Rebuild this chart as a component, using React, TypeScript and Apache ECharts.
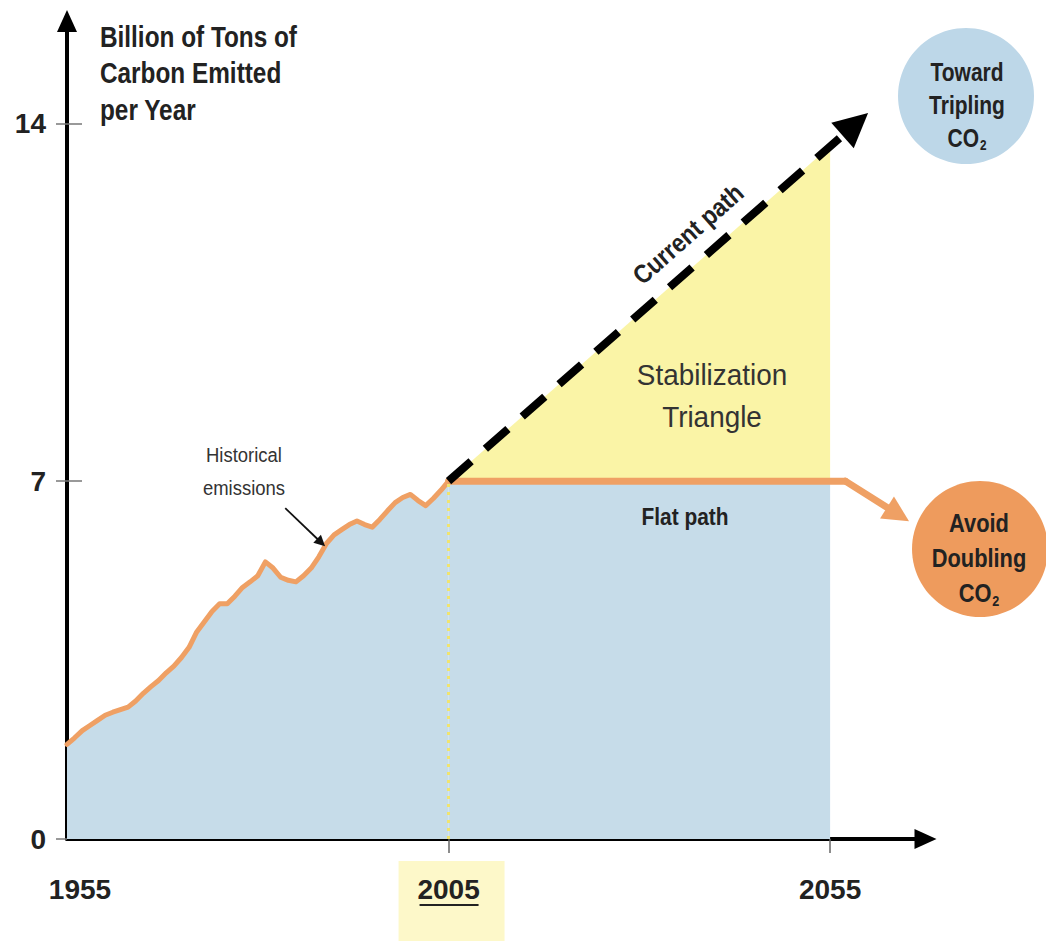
import React, { useEffect, useRef } from "react";
import * as echarts from "echarts";

// ---- data ----
const historicalYears = [
  1955, 1956, 1957, 1958, 1959, 1960, 1961, 1962, 1963, 1964, 1965, 1966, 1967,
  1968, 1969, 1970, 1971, 1972, 1973, 1974, 1975, 1976, 1977, 1978, 1979, 1980,
  1981, 1982, 1983, 1984, 1985, 1986, 1987, 1988, 1989, 1990, 1991, 1992, 1993,
  1994, 1995, 1996, 1997, 1998, 1999, 2000, 2001, 2002, 2003, 2004, 2005,
];
const historicalValues = [
  1.85, 1.98, 2.12, 2.22, 2.32, 2.42, 2.48, 2.53, 2.58, 2.7, 2.85, 2.98, 3.1,
  3.25, 3.38, 3.55, 3.75, 4.05, 4.25, 4.45, 4.6, 4.6, 4.75, 4.92, 5.03, 5.15,
  5.42, 5.3, 5.12, 5.06, 5.03, 5.15, 5.3, 5.52, 5.78, 5.95, 6.05, 6.15, 6.22,
  6.15, 6.1, 6.25, 6.42, 6.58, 6.68, 6.74, 6.62, 6.52, 6.66, 6.82, 7.0,
];
const projectionYears = [2005, 2055];
const flatPathValues = [7, 7];
const currentPathValues = [7, 13.55];
const currentArrowYears = [2005, 2058.3];
const currentArrowValues = [7, 13.98];
const flatLineYears = [2005, 2057];
const flatArrowYears = [2057, 2063.9];
const flatArrowValues = [7, 6.35];
const noteArrowYears = [1983.6, 1988.3];
const noteArrowValues = [6.47, 5.8];
const yTickValues = [0, 7, 14];
const yInnerTickValues = [7, 14];
const xLabelValues = [1955, 2005, 2055];
const xTickValues = [2005, 2055];

// ---- styles ----
const SANS = "'Liberation Sans', Arial, sans-serif";
const ORANGE = "#EFA064";
const BLUE_FILL = "#C6DCE9";
const YELLOW_FILL = "#FAF4A6";
const TEXT = "#222222";

const pairs = (xs: number[], ys: number[]) => xs.map((x, i) => [x, ys[i]]);

export default function App() {
  const ref = useRef<HTMLDivElement>(null);

  useEffect(() => {
    if (!ref.current) return;
    const chart = echarts.init(ref.current, null, { renderer: "svg" });

    const option: any = {
      animation: false,
      backgroundColor: "#ffffff",
      grid: { left: 67, top: 21, width: 858.5, height: 818, containLabel: false },
      xAxis: {
        type: "value",
        min: 1955,
        max: 2067.5,
        axisLine: {
          show: true,
          onZero: false,
          lineStyle: { color: "#000", width: 4 },
          symbol: ["none", "triangle"],
          symbolSize: [20, 22],
        },
        axisTick: {
          show: true,
          customValues: xTickValues,
          length: 14,
          lineStyle: { color: "#666", width: 1.5 },
        },
        axisLabel: {
          customValues: xLabelValues,
          margin: 36,
          fontFamily: SANS,
          fontWeight: "bold",
          fontSize: 28,
          color: TEXT,
          formatter: (v: number) =>
            Math.round(v) === 1955 ? "{first|1955}" : String(Math.round(v)),
          rich: {
            first: {
              padding: [0, 0, 0, 26],
              fontFamily: SANS,
              fontWeight: "bold",
              fontSize: 28,
              color: TEXT,
            },
          },
        },
        splitLine: { show: false },
      },
      yAxis: [
        {
          type: "value",
          min: 0,
          max: 16,
          axisLine: {
            show: true,
            onZero: false,
            lineStyle: { color: "#000", width: 4 },
            symbol: ["none", "triangle"],
            symbolSize: [20, 22],
          },
          axisTick: {
            show: true,
            customValues: yTickValues,
            length: 11,
            lineStyle: { color: "#777", width: 1.5 },
          },
          axisLabel: {
            customValues: yTickValues,
            margin: 21,
            fontFamily: SANS,
            fontWeight: "bold",
            fontSize: 28,
            color: TEXT,
          },
          splitLine: { show: false },
        },
        {
          type: "value",
          min: 0,
          max: 16,
          position: "left",
          axisLine: { show: false },
          axisTick: {
            show: true,
            inside: true,
            customValues: yInnerTickValues,
            length: 15,
            lineStyle: { color: "#777", width: 1.5 },
          },
          axisLabel: { show: false },
          splitLine: { show: false },
        },
      ],
      series: [
        {
          name: "Flat path area",
          type: "line",
          data: pairs(projectionYears, flatPathValues),
          symbol: "none",
          lineStyle: { width: 0, opacity: 0 },
          areaStyle: { color: BLUE_FILL, opacity: 1 },
          silent: true,
          markLine: {
            silent: true,
            symbol: "none",
            label: { show: false },
            lineStyle: { type: [3, 5], color: "#F0E46E", width: 3, opacity: 1 },
            data: [[{ coord: [2005, 0] }, { coord: [2005, 7] }]],
          },
        },
        {
          name: "Historical emissions",
          type: "line",
          data: pairs(historicalYears, historicalValues),
          symbol: "none",
          lineStyle: { color: ORANGE, width: 5, join: "round", cap: "round" },
          areaStyle: { color: BLUE_FILL, opacity: 1 },
          silent: true,
          z: 3,
        },
        {
          name: "Stabilization triangle",
          type: "line",
          data: pairs(projectionYears, currentPathValues),
          symbol: "none",
          lineStyle: { width: 0, opacity: 0 },
          areaStyle: { color: YELLOW_FILL, opacity: 1, origin: 7 },
          silent: true,
        },
        {
          name: "Flat path",
          type: "line",
          data: pairs(flatLineYears, flatPathValues),
          symbol: "none",
          lineStyle: { color: ORANGE, width: 7, cap: "round" },
          silent: true,
          z: 4,
        },
        {
          name: "Flat path arrow",
          type: "lines",
          coordinateSystem: "cartesian2d",
          symbol: ["none", "triangle"],
          symbolSize: [1, 26],
          lineStyle: { color: ORANGE, width: 7, opacity: 1, curveness: 0, cap: "round" },
          data: [{ coords: pairs(flatArrowYears, flatArrowValues) }],
          silent: true,
          z: 4,
        },
        {
          name: "Current path",
          type: "lines",
          coordinateSystem: "cartesian2d",
          symbol: ["none", "triangle"],
          symbolSize: [1, 34],
          lineStyle: { color: "#000", width: 8, opacity: 1, curveness: 0, type: [30, 19] },
          data: [{ coords: pairs(currentArrowYears, currentArrowValues) }],
          silent: true,
          z: 5,
        },
        {
          name: "Note arrow",
          type: "lines",
          coordinateSystem: "cartesian2d",
          symbol: ["none", "triangle"],
          symbolSize: [1, 11],
          lineStyle: { color: "#111", width: 1.8, opacity: 1, curveness: 0 },
          data: [{ coords: pairs(noteArrowYears, noteArrowValues) }],
          silent: true,
          z: 5,
        },
      ],
    };

    chart.setOption(option);

    const p2005 = chart.convertToPixel({ gridIndex: 0 }, [2005, 0]) as number[];
    const px = p2005[0];

    chart.setOption({
      graphic: [
        {
          type: "rect",
          z: -10,
          shape: { x: px - 50, y: 861, width: 106, height: 80 },
          style: { fill: "#FDF8C9" },
          silent: true,
        },
        {
          type: "line",
          shape: { x1: px - 29, y1: 905, x2: px + 30, y2: 905 },
          style: { stroke: TEXT, lineWidth: 2 },
          silent: true,
        },
        {
          type: "text",
          x: 100,
          y: 19,
          scaleX: 0.84,
          style: {
            text: "Billion of Tons of\nCarbon Emitted\nper Year",
            font: `bold 29px ${SANS}`,
            lineHeight: 36.5,
            fill: TEXT,
            align: "left",
            verticalAlign: "top",
          },
          silent: true,
        },
        {
          type: "text",
          x: 244,
          y: 471,
          scaleX: 0.88,
          style: {
            text: "Historical\nemissions",
            font: `21px ${SANS}`,
            lineHeight: 33,
            fill: "#333",
            align: "center",
            verticalAlign: "middle",
          },
          silent: true,
        },
        {
          type: "text",
          x: 688,
          y: 234,
          rotation: (41.3 * Math.PI) / 180,
          scaleX: 0.88,
          style: {
            text: "Current path",
            font: `bold 26px ${SANS}`,
            fill: TEXT,
            align: "center",
            verticalAlign: "middle",
          },
          silent: true,
          z: 10,
        },
        {
          type: "text",
          x: 712,
          y: 396,
          scaleX: 0.93,
          style: {
            text: "Stabilization\nTriangle",
            font: `30px ${SANS}`,
            lineHeight: 42,
            fill: "#333",
            align: "center",
            verticalAlign: "middle",
          },
          silent: true,
          z: 10,
        },
        {
          type: "text",
          x: 685,
          y: 517,
          scaleX: 0.87,
          style: {
            text: "Flat path",
            font: `bold 24px ${SANS}`,
            fill: TEXT,
            align: "center",
            verticalAlign: "middle",
          },
          silent: true,
          z: 10,
        },
        {
          type: "circle",
          shape: { cx: 966, cy: 96, r: 68 },
          style: { fill: "#BDD7E8" },
          silent: true,
        },
        {
          type: "text",
          x: 967,
          y: 105,
          scaleX: 0.84,
          style: {
            text: "Toward\nTripling\nCO{sub|2}",
            font: `bold 25px ${SANS}`,
            lineHeight: 33,
            fill: TEXT,
            align: "center",
            verticalAlign: "middle",
            rich: {
              sub: { font: `bold 14px ${SANS}`, fill: TEXT, padding: [15, 0, 0, 1] },
            },
          },
          silent: true,
          z: 10,
        },
        {
          type: "circle",
          shape: { cx: 980, cy: 549, r: 68 },
          style: { fill: "#EE9B5D" },
          silent: true,
        },
        {
          type: "text",
          x: 979,
          y: 558,
          scaleX: 0.84,
          style: {
            text: "Avoid\nDoubling\nCO{sub|2}",
            font: `bold 26px ${SANS}`,
            lineHeight: 35,
            fill: TEXT,
            align: "center",
            verticalAlign: "middle",
            rich: {
              sub: { font: `bold 15px ${SANS}`, fill: TEXT, padding: [15, 0, 0, 1] },
            },
          },
          silent: true,
          z: 10,
        },
      ],
    });

    return () => chart.dispose();
  }, []);

  return (
    <div
      ref={ref}
      style={{ position: "absolute", left: 0, top: 0, width: 1046, height: 941 }}
    />
  );
}
